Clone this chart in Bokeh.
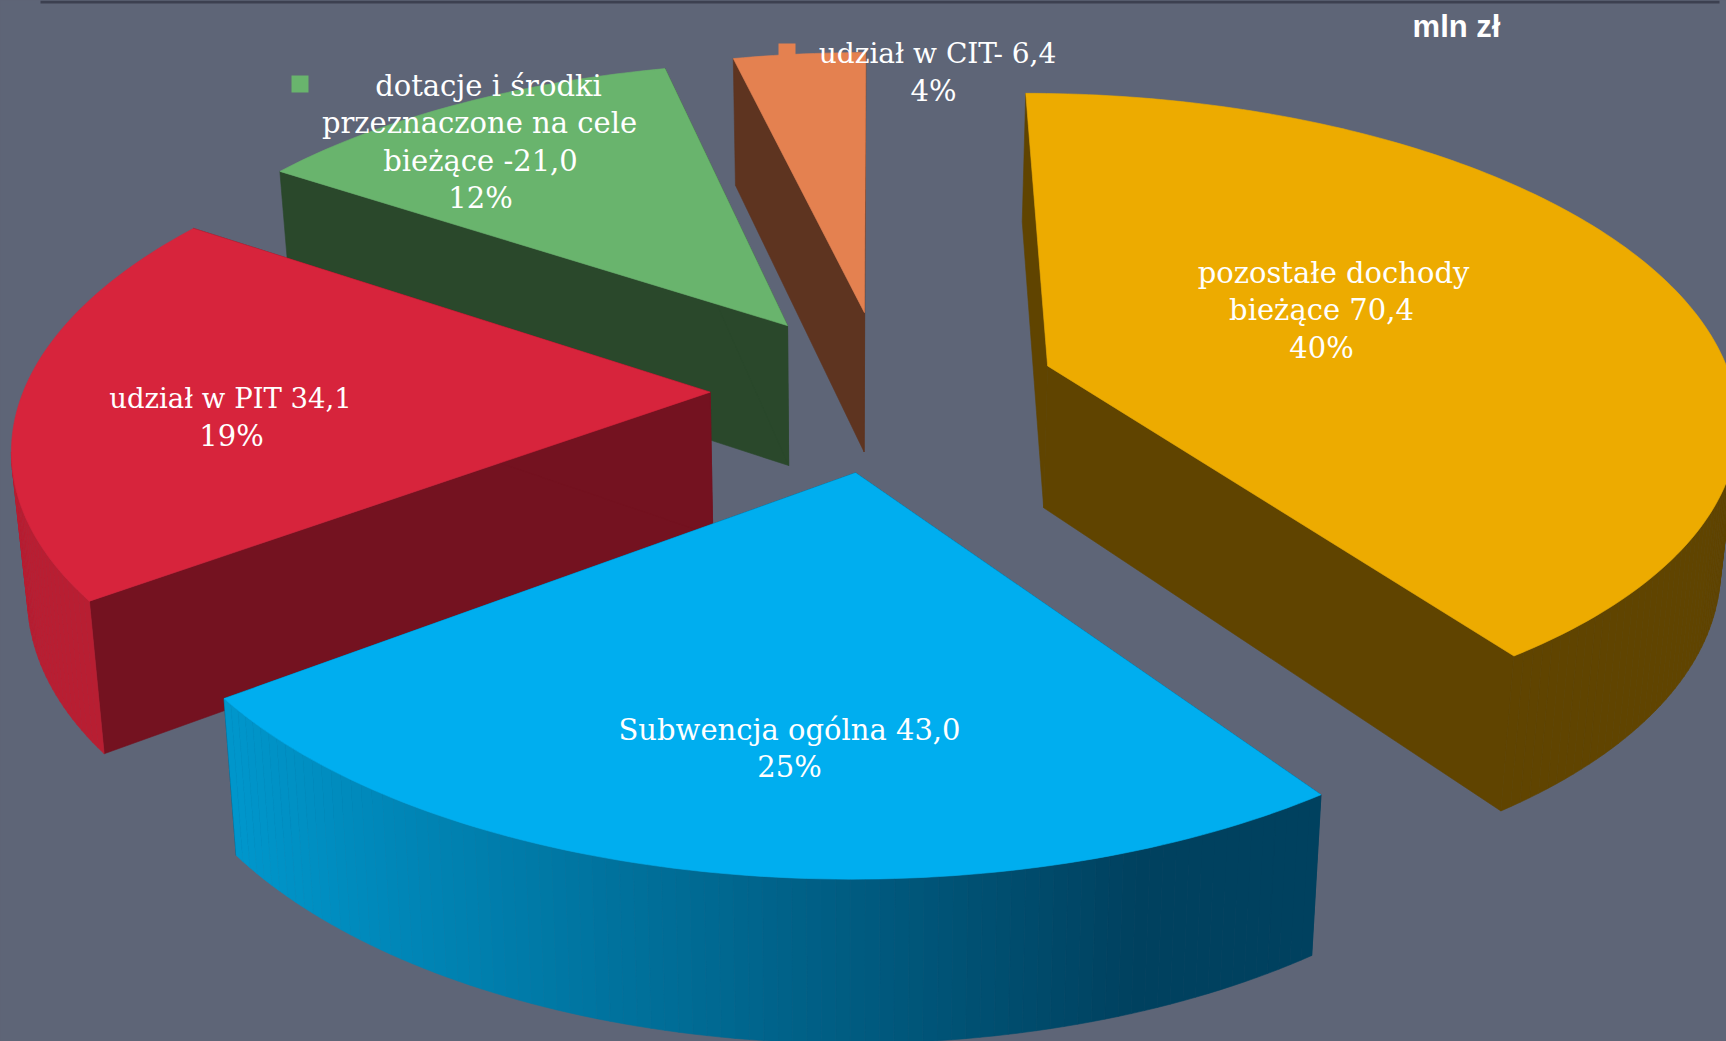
import numpy as np
from bokeh.plotting import figure
from bokeh.models import Range1d
from bokeh.core.properties import value
from bokeh.embed import file_html
from bokeh.resources import INLINE

# ---- data (clockwise from 12 o'clock) ----
names = ["pozostałe dochody bieżące", "Subwencja ogólna", "udział w PIT",
         "dotacje i środki przeznaczone na cele bieżące", "udział w CIT"]
values = [70.4, 43.0, 34.1, 21.0, 6.4]
percents = ["40%", "25%", "19%", "12%", "4%"]
unit_label = "mln zł"
top_colors = ["#EDAB00", "#00AEEF", "#D7243C", "#69B46D", "#E48150"]
cut_colors = ["#604400", "#00415F", "#741220", "#2A482B", "#5E3420"]
wall_colors = ["#604400", None, "#B81E32", "#2A482B", "#5E3420"]

# ---- layout ----
W, H = 1726, 1041
BG = "#5E6577"
EXPLODE = 0.253
RX, RY = 0.3164, 0.298
CV, CU, SCALE_U = 0.0039, 2.0244, 4392.0
VPX, HORIZON = 875.0, -1780.0
CAMERA_Y = -CU / RY  # plane position under the camera


def project(X, Y):
    v = CV + RX * np.asarray(X)
    u = (CU + RY * np.asarray(Y)) / SCALE_U
    return VPX + v / u, HORIZON + 1.0 / u


def lower(sx, sy):
    h = np.asarray(sy) + 1900.0
    ub = (1.0 / h) * 0.9274 + 6.04e-6
    return 845 + (np.asarray(sx) - 845) * 0.9805, -1900.0 + 1.0 / ub


p = figure(width=W, height=H, output_backend="svg", toolbar_location=None,
           x_range=Range1d(0, W), y_range=Range1d(H, 0), min_border=0,
           background_fill_color=BG, border_fill_color=BG)
p.axis.visible = False
p.grid.visible = False
p.outline_line_color = None

# dark rule along the top edge
p.quad(left=[40], right=[1719], top=[0], bottom=[3], fill_color="#3C4050", line_color=None)

total = sum(values)
edges = np.concatenate([[0], np.cumsum(values)]) / total * 2 * np.pi
draw_order = [4, 3, 2, 0, 1]


def face(xs, ys, color):
    p.patch(list(xs), list(ys), fill_color=color, line_color=color, line_width=0.6)


for i in draw_order:
    a0, a1 = edges[i], edges[i + 1]
    mid = (a0 + a1) / 2
    ox, oy = EXPLODE * np.sin(mid), EXPLODE * np.cos(mid)
    t = np.linspace(a0, a1, max(int(np.degrees(a1 - a0)), 8) + 1)
    ax, ay = project([ox], [oy])
    tx, ty = project(ox + np.sin(t), oy + np.cos(t))
    bax, bay = lower(ax, ay)
    bx, by = lower(tx, ty)
    # cut faces
    for k in (0, -1):
        face([ax[0], tx[k], bx[k], bax[0]], [ay[0], ty[k], by[k], bay[0]], cut_colors[i])
    # outer wall: only the quads that face the camera
    c0, c1 = np.array([0, 0x97, 0xCC]), np.array([0, 0x41, 0x5F])
    for j in range(len(t) - 1):
        tm = (t[j] + t[j + 1]) / 2
        px, py = ox + np.sin(tm), oy + np.cos(tm)
        if np.sin(tm) * (-px) + np.cos(tm) * (CAMERA_Y - py) <= 0:
            continue
        col = wall_colors[i]
        if col is None:
            f = np.clip((tx[j] - 230) / (1150 - 230), 0, 1)
            r, g, b = (c0 + (c1 - c0) * f).astype(int)
            col = f"#{r:02x}{g:02x}{b:02x}"
        face([tx[j], tx[j + 1], bx[j + 1], bx[j]], [ty[j], ty[j + 1], by[j + 1], by[j]], col)
    # top
    face(np.r_[ax, tx], np.r_[ay, ty], top_colors[i])

# legend keys left in the labels
p.quad(left=[291, 778], right=[308, 795], top=[75, 43], bottom=[92, 60],
       fill_color=[top_colors[3], top_colors[4]], line_color=None)

# labels
fmt = lambda v: f"{v:.1f}".replace(".", ",")
label_lines = [
    ("dotacje i środki", 488, 85, 29), ("przeznaczone na cele", 479, 122, 29),
    (f"bieżące -{fmt(values[3])}", 480, 160, 29), (percents[3], 480, 197, 29),
    (f"udział w CIT- {fmt(values[4])}", 937, 53, 28), (percents[4], 933, 90, 29),
    ("pozostałe dochody", 1333, 272, 29),
    (f"bieżące {fmt(values[0])}", 1321, 309, 29), (percents[0], 1321, 347, 29),
    (f"udział w PIT {fmt(values[2])}", 230, 397, 27.5), (percents[2], 231, 435, 29),
    (f"Subwencja ogólna {fmt(values[1])}", 789, 729, 29), (percents[1], 789, 766, 29),
]
for s, x, y, fs in label_lines:
    p.text(x=[x], y=[y], text=[s], text_color="white",
           text_font=value("DejaVu Serif"), text_font_size=f"{fs}px",
           text_align="center", text_baseline="middle")
p.text(x=[1456], y=[26], text=[unit_label], text_color="white",
       text_font=value("Liberation Sans"), text_font_style="bold", text_font_size="31px",
       text_align="center", text_baseline="middle")

html = file_html(p, INLINE)
html = html.replace("<head>", f"<head><style>html,body{{margin:0;padding:0;overflow:hidden;background:{BG}}}</style>", 1)
open("out.html", "w").write(html)
